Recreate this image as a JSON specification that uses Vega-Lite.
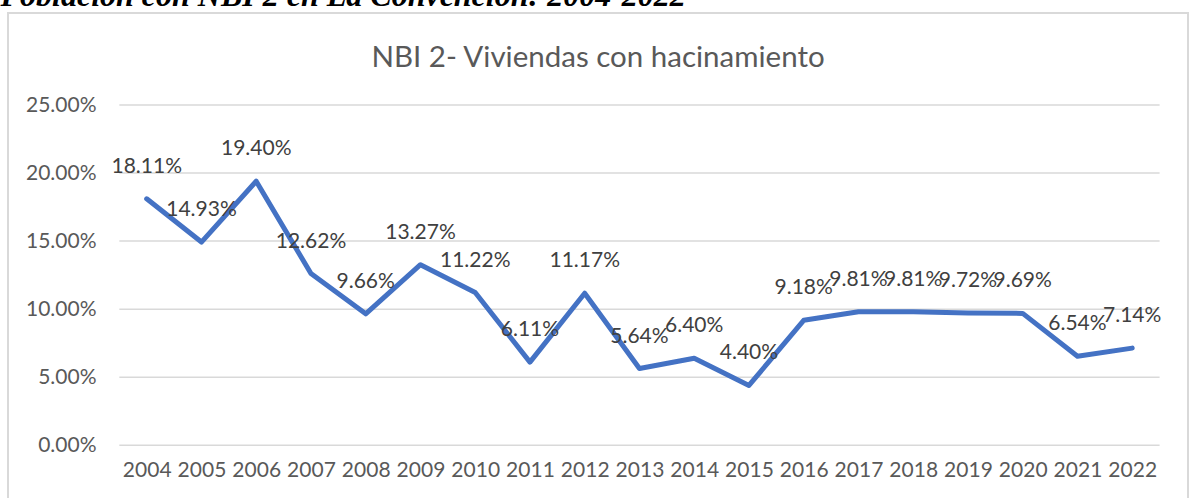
{
  "$schema": "https://vega.github.io/schema/vega-lite/v6.json",
  "autosize": "none",
  "padding": {"left": 8, "top": 13, "right": 8, "bottom": 0},
  "width": 1180,
  "height": 490,
  "background": "white",
  "title": {
    "text": "NBI 2- Viviendas con hacinamiento",
    "font": "Lato",
    "fontSize": 29.5,
    "fontWeight": "normal",
    "color": "#595959",
    "anchor": "middle",
    "frame": "group",
    "baseline": "alphabetic",
    "offset": -117
  },
  "datasets": {
    "main": [
      {"year": 2004, "value": 0.1811},
      {"year": 2005, "value": 0.1493},
      {"year": 2006, "value": 0.1940},
      {"year": 2007, "value": 0.1262},
      {"year": 2008, "value": 0.0966},
      {"year": 2009, "value": 0.1327},
      {"year": 2010, "value": 0.1122},
      {"year": 2011, "value": 0.0611},
      {"year": 2012, "value": 0.1117},
      {"year": 2013, "value": 0.0564},
      {"year": 2014, "value": 0.0640},
      {"year": 2015, "value": 0.0440},
      {"year": 2016, "value": 0.0918},
      {"year": 2017, "value": 0.0981},
      {"year": 2018, "value": 0.0981},
      {"year": 2019, "value": 0.0972},
      {"year": 2020, "value": 0.0969},
      {"year": 2021, "value": 0.0654},
      {"year": 2022, "value": 0.0714}
    ],
    "grid": [
      {"v": 0}, {"v": 0.05}, {"v": 0.10}, {"v": 0.15}, {"v": 0.20}, {"v": 0.25}
    ]
  },
  "data": {"name": "main"},
  "layer": [
    {
      "data": {"name": "grid"},
      "mark": {"type": "rule", "stroke": "#d9d9d9", "strokeWidth": 1.5},
      "encoding": {
        "y": {"field": "v", "type": "quantitative"},
        "x": {"datum": 2003.5, "type": "quantitative"},
        "x2": {"datum": 2022.5}
      }
    },
    {
      "mark": {"type": "line", "stroke": "#4472c4", "strokeWidth": 5, "strokeJoin": "round", "strokeCap": "round"},
      "encoding": {
        "x": {
          "field": "year", "type": "quantitative",
          "scale": {"domain": [2001.4667, 2023.019], "nice": false, "zero": false},
          "axis": {
            "orient": "bottom", "values": [2004,2005,2006,2007,2008,2009,2010,2011,2012,2013,2014,2015,2016,2017,2018,2019,2020,2021,2022],
            "format": "d", "grid": false, "ticks": false, "tickSize": 0, "domain": false,
            "labelFont": "Lato", "labelFontSize": 21, "labelColor": "#595959",
            "labelBaseline": "middle", "labelPadding": -33, "labelFlush": false, "labelOverlap": false,
            "title": null
          }
        },
        "y": {
          "field": "value", "type": "quantitative",
          "scale": {"domain": [-0.0424, 0.3176], "nice": false, "zero": false},
          "axis": {
            "orient": "left", "values": [0, 0.05, 0.1, 0.15, 0.2, 0.25], "format": ".2%",
            "grid": false, "ticks": false, "tickSize": 0, "domain": false,
            "labelFont": "Lato", "labelFontSize": 21, "labelColor": "#595959",
            "labelPadding": -88, "labelFlush": false, "labelOverlap": false,
            "title": "Población con NBI 2 en La Convención: 2004-2022",
            "titleAngle": 0, "titleX": -8, "titleY": -8, "titleAlign": "left", "titleBaseline": "alphabetic",
            "titleFont": "Liberation Serif", "titleFontStyle": "italic", "titleFontWeight": "bold",
            "titleFontSize": 32, "titleColor": "#000000"
          }
        }
      }
    },
    {
      "mark": {"type": "text", "font": "Lato", "fontSize": 21, "color": "#404040", "baseline": "middle", "dy": -32},
      "encoding": {
        "x": {"field": "year", "type": "quantitative"},
        "y": {"field": "value", "type": "quantitative"},
        "text": {"field": "value", "format": ".2%"}
      }
    }
  ],
  "config": {
    "view": {"stroke": "#d9d9d9", "strokeWidth": 2}
  }
}
